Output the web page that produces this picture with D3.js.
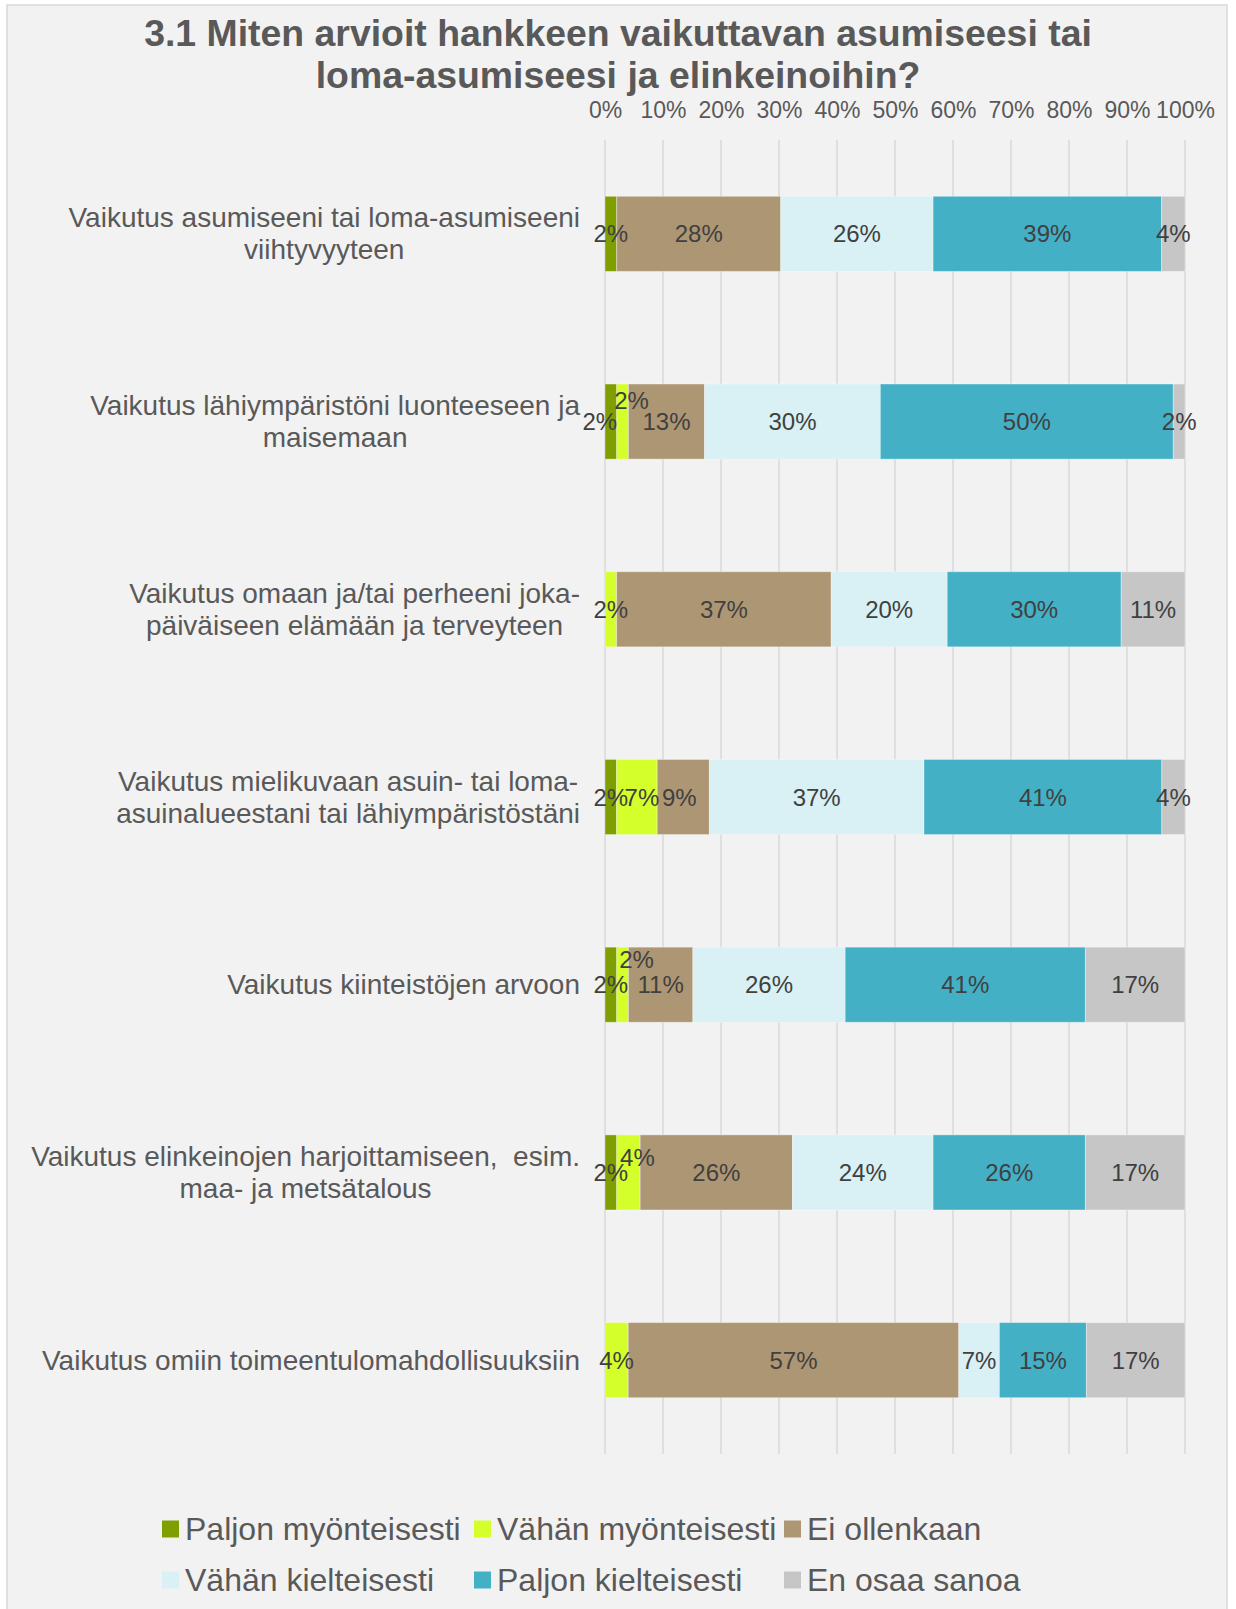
<!DOCTYPE html>
<html><head><meta charset="utf-8">
<script src="https://cdn.jsdelivr.net/npm/d3@7/dist/d3.min.js"></script>
<style>body{margin:0;background:#fff;} text{font-family:"Liberation Sans",Arial,sans-serif;white-space:pre;}</style>
</head><body><svg id="c" width="1236" height="1609"></svg>
<script>
const categories = [
  ["Vaikutus asumiseeni tai loma-asumiseeni", "viihtyvyyteen"],
  ["Vaikutus lähiympäristöni luonteeseen ja", "maisemaan"],
  ["Vaikutus omaan ja/tai perheeni joka-", "päiväiseen elämään ja terveyteen"],
  ["Vaikutus mielikuvaan asuin- tai loma-", "asuinalueestani tai lähiympäristöstäni"],
  ["Vaikutus kiinteistöjen arvoon"],
  ["Vaikutus elinkeinojen harjoittamiseen,  esim.", "maa- ja metsätalous"],
  ["Vaikutus omiin toimeentulomahdollisuuksiin"]
];
const seriesNames = ["Paljon myönteisesti", "Vähän myönteisesti", "Ei ollenkaan",
  "Vähän kielteisesti", "Paljon kielteisesti", "En osaa sanoa"];
const paljonMyonteisesti = [2, 2, 0, 2, 2, 2, 0];
const vahanMyonteisesti  = [0, 2, 2, 7, 2, 4, 4];
const eiOllenkaan        = [28, 13, 37, 9, 11, 26, 57];
const vahanKielteisesti  = [26, 30, 20, 37, 26, 24, 7];
const paljonKielteisesti = [39, 50, 30, 41, 41, 26, 15];
const enOsaaSanoa        = [4, 2, 11, 4, 17, 17, 17];
const tickValues = [0, 0.1, 0.2, 0.3, 0.4, 0.5, 0.6, 0.7, 0.8, 0.9, 1];
const titleLines = ["3.1 Miten arvioit hankkeen vaikuttavan asumiseesi tai", "loma-asumiseesi ja elinkeinoihin?"];

const colors = ["#7f9f00", "#d4ff2a", "#ad9673", "#d9f0f4", "#43b0c6", "#c6c6c6"];
// manual label nudges (labels moved in the original to reduce overlap): key "row-series"
const labelNudge = {"1-0": [-11, 0], "1-1": [9, -21], "3-1": [5, 0], "3-2": [-4, 0],
  "4-1": [14, -25], "5-1": [9, -15]};

const seriesValues = [paljonMyonteisesti, vahanMyonteisesti, eiOllenkaan, vahanKielteisesti, paljonKielteisesti, enOsaaSanoa];
const rows = categories.map((c, i) => {
  const o = {idx: i};
  seriesNames.forEach((s, j) => o[s] = seriesValues[j][i]);
  return o;
});

const svg = d3.select("#c");
svg.append("rect").attr("x", 7).attr("y", 5).attr("width", 1220).attr("height", 1620)
  .attr("fill", "#f2f2f2").attr("stroke", "#d9d9d9").attr("stroke-width", 1.5);

svg.append("g").selectAll("text").data(titleLines).join("text")
  .attr("x", 618).attr("y", (d, i) => 33 + i * 42)
  .attr("text-anchor", "middle").attr("dominant-baseline", "central")
  .attr("font-size", 37.4).attr("font-weight", "bold").attr("fill", "#595959")
  .text(d => d);

const x = d3.scaleLinear().domain([0, 1]).range([605, 1185]);
const y = d3.scaleBand().domain(d3.range(categories.length)).range([140, 1454])
  .paddingInner(0.6).paddingOuter(0.3);

svg.append("g").selectAll("line").data(tickValues).join("line")
  .attr("x1", d => x(d)).attr("x2", d => x(d)).attr("y1", 140).attr("y2", 1454)
  .attr("stroke", "#d9d9d9").attr("stroke-width", 1.5);

const axis = d3.axisTop(x).tickValues(tickValues).tickFormat(d3.format(".0%")).tickSize(0);
const ag = svg.append("g").attr("transform", "translate(0,110)").call(axis);
ag.select(".domain").remove();
ag.selectAll("text").attr("font-size", 23).attr("fill", "#595959")
  .attr("font-family", '"Liberation Sans",Arial,sans-serif')
  .attr("dy", null).attr("y", 0).attr("dominant-baseline", "central");

const stack = d3.stack().keys(seriesNames).offset(d3.stackOffsetExpand);
const stacked = stack(rows);

const gBars = svg.append("g");
stacked.forEach((layer, j) => {
  gBars.append("g").attr("fill", colors[j]).selectAll("rect").data(layer).join("rect")
    .attr("x", d => x(d[0])).attr("width", d => x(d[1]) - x(d[0]))
    .attr("y", (d, i) => y(i)).attr("height", y.bandwidth())
    .attr("stroke", "rgba(255,255,255,0.35)").attr("stroke-width", 1);
});

const gLab = svg.append("g");
stacked.forEach((layer, j) => {
  layer.forEach((d, i) => {
    const v = seriesValues[j][i];
    if (!v) return;
    const nudge = labelNudge[i + "-" + j] || [0, 0];
    gLab.append("text")
      .attr("x", (x(d[0]) + x(d[1])) / 2 + nudge[0])
      .attr("y", y(i) + y.bandwidth() / 2 + nudge[1])
      .attr("text-anchor", "middle").attr("dominant-baseline", "central")
      .attr("font-size", 24).attr("fill", "#404040")
      .text(v + "%");
  });
});

const gCat = svg.append("g");
categories.forEach((lines, i) => {
  const cy = y(i) + y.bandwidth() / 2;
  const g = gCat.append("g");
  const ts = g.selectAll("text").data(lines).join("text")
    .attr("y", (d, k) => cy + (k - (lines.length - 1) / 2) * 32)
    .attr("dominant-baseline", "central").attr("text-anchor", "middle")
    .attr("font-size", 28).attr("fill", "#595959").text(d => d);
  let maxW = 0;
  ts.each(function () { maxW = Math.max(maxW, this.getComputedTextLength()); });
  ts.attr("x", 580 - maxW / 2);
});

const legendCols = [162, 474, 784];
const legendRows = [1529, 1580];
const gLeg = svg.append("g");
seriesNames.forEach((s, j) => {
  const lx = legendCols[j % 3], ly = legendRows[Math.floor(j / 3)];
  gLeg.append("rect").attr("x", lx).attr("y", ly - 8.5).attr("width", 17).attr("height", 17).attr("fill", colors[j]);
  gLeg.append("text").attr("x", lx + 23).attr("y", ly).attr("dominant-baseline", "central")
    .attr("font-size", 32).attr("fill", "#595959").text(s);
});
</script></body></html>
